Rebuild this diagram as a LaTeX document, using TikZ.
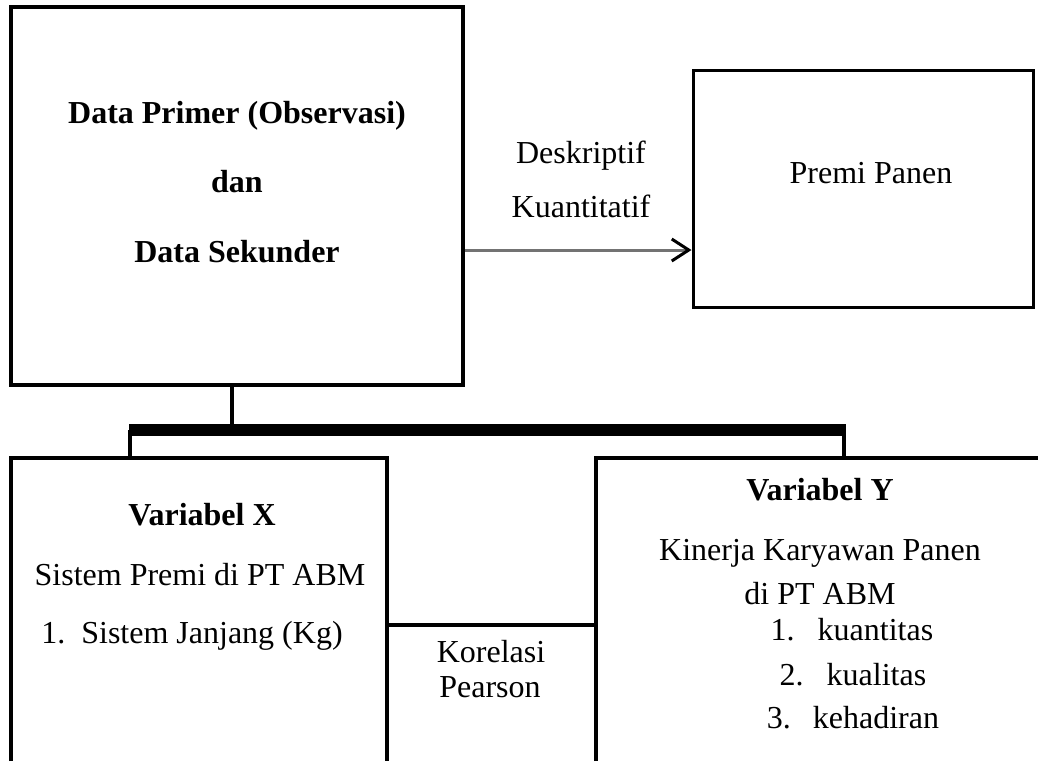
\documentclass[tikz,border=0pt]{standalone}
\usepackage{fontspec}
\setmainfont{Liberation Serif}
\usetikzlibrary{arrows.meta}

\begin{document}
\begin{tikzpicture}[x=1pt,y=-1pt,
    kotak/.style={draw, line width=3.5pt, inner sep=0pt},
    teks/.style={inner sep=0pt, anchor=base, font=\fontsize{32}{38}\selectfont},
    tebal/.style={teks, font=\fontsize{32}{38}\selectfont\bfseries},
    garis/.style={line width=3.5pt}]
    \useasboundingbox (0,0) rectangle (1038,761);

    % 上方的两个框
    \node[kotak, minimum width=452pt, minimum height=378pt] (data) at (237,196) {};
    \node[kotak, line width=3pt, minimum width=340pt, minimum height=237pt] (premi) at (863,188.5) {};
    \node[tebal] (primer) at (237,123) {Data Primer (Observasi)};
    \node[tebal] (dan) at (237,192) {dan};
    \node[tebal] (sekunder) at (237,262) {Data Sekunder};
    \node[teks] (panen) at (871,183) {Premi Panen};

    % 箭头
    \coordinate (tinggi) at (0,250);
    \draw[line width=3pt, black!55, -{Straight Barb[length=17pt,width=22pt,line width=3pt,color=black]}]
        (data.east |- tinggi) -- (premi.west |- tinggi);
    \node[teks] (deskriptif) at (581,163) {Deskriptif};
    \node[teks] (kuantitatif) at (581,217) {Kuantitatif};

    % 分支
    \coordinate (cabang) at (232,430);
    \coordinate (ujungkiri) at (129,430);
    \coordinate (ujungkanan) at (846,430);
    \coordinate (turunx) at (130,458);
    \coordinate (turuny) at (844,458);
    \draw[garis] (data.south -| cabang) -- (cabang);
    \draw[line width=12pt] (ujungkiri) -- (ujungkanan);
    \draw[garis] (turunx |- cabang) -- (turunx);
    \draw[garis] (turuny |- cabang) -- (turuny);

    % 下方的两个框
    \draw[garis] (11,761) -- (11,458) -- (387,458) -- (387,761);
    \draw[garis] (596,761) -- (596,458) -- (1038,458);
    \coordinate (korkiri) at (387,625);
    \coordinate (korkanan) at (596,625);
    \draw[garis] (korkiri) -- (korkanan);
    \node[teks] (korelasi) at (491,662) {Korelasi};
    \node[teks] (pearson) at (490,697) {Pearson};

    \node[tebal] (varx) at (202,525) {Variabel X};
    \node[teks] (sistem) at (200,585) {Sistem Premi di PT ABM};
    \node[teks] (janjang) at (192,643) {1.\hspace{16pt}Sistem Janjang (Kg)};

    \node[tebal] (vary) at (820,500) {Variabel Y};
    \node[teks] (kinerja) at (820,560) {Kinerja Karyawan Panen};
    \node[teks] (dipt) at (820,604) {di PT ABM};
    \node[teks] (kuantitas) at (852,640) {1.\hspace{23pt}kuantitas};
    \node[teks] (kualitas) at (853,685) {2.\hspace{23pt}kualitas};
    \node[teks] (hadir) at (853,728) {3.\hspace{22pt}kehadiran};
\end{tikzpicture}
\end{document}
